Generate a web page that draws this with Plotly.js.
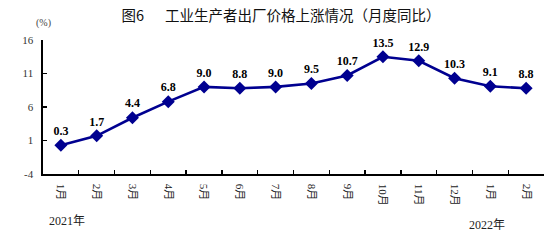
<!DOCTYPE html>
<html>
<head>
<meta charset="utf-8">
<script src="https://cdn.plot.ly/plotly-3.0.1.min.js"></script>
<style>html,body{margin:0;padding:0;background:#fff;}#chart{width:556px;height:241px;}</style>
</head>
<body>
<div id="chart"></div>
<script>
const months = ['1月','2月','3月','4月','5月','6月','7月','8月','9月','10月','11月','12月','1月 ','2月 '];
const monthLabels = ['1月','2月','3月','4月','5月','6月','7月','8月','9月','10月','11月','12月','1月','2月'];
const ppiYoY = [0.3, 1.7, 4.4, 6.8, 9.0, 8.8, 9.0, 9.5, 10.7, 13.5, 12.9, 10.3, 9.1, 8.8];
const yTicks = [-4, 1, 6, 11, 16];
const titleText = '图6　  工业生产者出厂价格上涨情况（月度同比）';
const yearLabels = ['2021年', '2022年'];
const unitLabel = '(%)';

const serif = '"Liberation Serif", "Times New Roman", "Noto Sans CJK SC", serif';

const trace = {
  x: months,
  y: ppiYoY,
  type: 'scatter',
  mode: 'lines+markers+text',
  text: ppiYoY.map(v => v.toFixed(1)),
  textposition: 'top center',
  textfont: {family: serif, size: 12, color: '#000', weight: 'bold'},
  line: {color: '#000090', width: 2.6},
  marker: {symbol: 'diamond', size: 10, color: '#000090'},
  cliponaxis: false,
  hoverinfo: 'none'
};

const layout = {
  width: 556,
  height: 241,
  margin: {l: 43, r: 12, t: 40, b: 67},
  paper_bgcolor: '#fff',
  plot_bgcolor: '#fff',
  showlegend: false,
  title: {
    text: titleText,
    font: {family: '"Noto Sans CJK SC", sans-serif', size: 14.5, color: '#111'},
    x: 0.475, xref: 'paper', xanchor: 'center',
    y: 1 - 16/241, yref: 'container', yanchor: 'middle'
  },
  xaxis: {
    type: 'category',
    tickmode: 'array',
    tickvals: months,
    ticktext: monthLabels,
    tickson: 'boundaries',
    ticks: 'inside',
    ticklen: 4,
    tickwidth: 1.3,
    tickcolor: '#000',
    tickangle: 90,
    ticklabelstandoff: 6,
    tickfont: {family: serif, size: 11, color: '#222'},
    showline: true,
    linecolor: '#000',
    linewidth: 1.6,
    showgrid: false,
    zeroline: false,
    range: [-0.5, 13.5],
    fixedrange: true
  },
  yaxis: {
    range: [-4, 16],
    tickmode: 'array',
    tickvals: yTicks,
    ticktext: yTicks.map(String),
    ticks: 'inside',
    ticklen: 4,
    tickwidth: 1.3,
    tickcolor: '#000',
    tickfont: {family: serif, size: 11, color: '#333'},
    showline: true,
    linecolor: '#000',
    linewidth: 1.6,
    showgrid: false,
    zeroline: false,
    ticklabelstandoff: 6,
    fixedrange: true
  },
  annotations: [
    {text: unitLabel, xref: 'paper', yref: 'paper', x: 0, y: 1, xshift: 0, yshift: 17,
     xanchor: 'center', yanchor: 'middle', showarrow: false,
     font: {family: serif, size: 10, color: '#444'}},
    {text: yearLabels[0], xref: 'paper', yref: 'paper', x: 0, y: 0, xshift: 4, yshift: -47,
     xanchor: 'left', yanchor: 'middle', showarrow: false,
     font: {family: serif, size: 12, color: '#222'}},
    {text: yearLabels[1], xref: 'paper', yref: 'paper', x: 1, y: 0, xshift: -37, yshift: -51,
     xanchor: 'right', yanchor: 'middle', showarrow: false,
     font: {family: serif, size: 12, color: '#222'}}
  ]
};

Plotly.newPlot('chart', [trace], layout, {staticPlot: true, displayModeBar: false});
</script>
</body>
</html>
